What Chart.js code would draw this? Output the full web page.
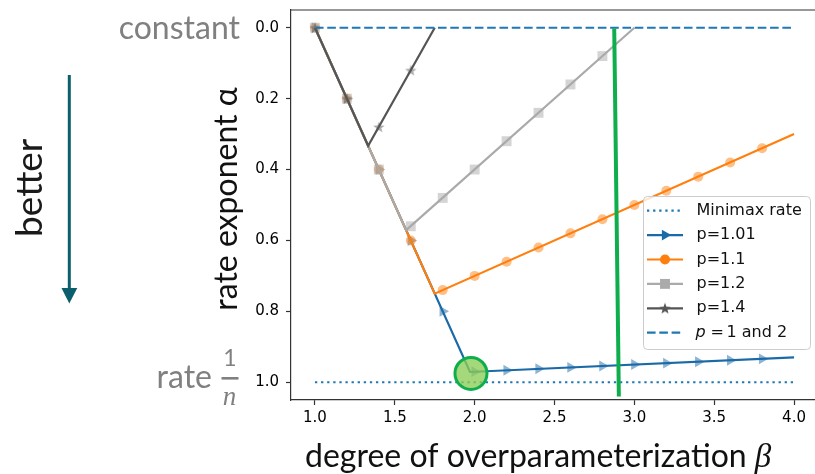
<!DOCTYPE html>
<html>
<head>
<meta charset="utf-8">
<script src="https://cdn.jsdelivr.net/npm/chart.js@4.4.1/dist/chart.umd.min.js"></script>
<style>
  html, body { margin: 0; padding: 0; overflow: hidden; background: #fff; }
  canvas { display: block; }
</style>
</head>
<body>
<canvas id="chart" width="830" height="474"></canvas>
<script>
// ---- data -------------------------------------------------------------
// overparameterization degree beta where markers are placed
const markerBeta = [1.0, 1.2, 1.4, 1.6, 1.8, 2.0, 2.2, 2.4, 2.6, 2.8, 3.0, 3.2, 3.4, 3.6, 3.8];

// rate exponent alpha at the marker positions, per p
const p101Markers = [0.0, 0.2, 0.4, 0.6, 0.8, 0.970, 0.966, 0.962, 0.958, 0.954, 0.950, 0.946, 0.942, 0.938, 0.934];
const p11Markers  = [0.0, 0.2, 0.4, 0.6, 0.74, 0.70, 0.66, 0.62, 0.58, 0.54, 0.50, 0.46, 0.42, 0.38, 0.34];
const p12Markers  = [0.0, 0.2, 0.4, 0.56, 0.48, 0.40, 0.32, 0.24, 0.16, 0.08];
const p14Markers  = [0.0, 0.2, 0.28, 0.12];

// piecewise-linear curves: beta and alpha at the corners
const p101LineBeta  = [1.0, 1.971, 4.0];
const p101LineAlpha = [0.0, 0.971, 0.930];
const p11LineBeta   = [1.0, 1.75, 4.0];
const p11LineAlpha  = [0.0, 0.75, 0.30];
const p12LineBeta   = [1.0, 1.571, 3.0];
const p12LineAlpha  = [0.0, 0.571, 0.0];
const p14LineBeta   = [1.0, 1.333, 1.75];
const p14LineAlpha  = [0.0, 0.333, 0.0];

// reference levels
const minimaxBeta  = [1.0, 4.0];
const minimaxAlpha = [1.0, 1.0];
const p1and2Beta   = [1.0, 4.0];
const p1and2Alpha  = [0.0, 0.0];

// highlighted point and marked threshold
const highlightBeta  = [1.977];
const highlightAlpha = [0.975];
const thresholdBeta  = [2.874, 2.903];
const thresholdAlpha = [0.002, 1.04];

// axis ticks
const xTicks = [1.0, 1.5, 2.0, 2.5, 3.0, 3.5, 4.0];
const yTicks = [0.0, 0.2, 0.4, 0.6, 0.8, 1.0];

// ---- helpers ------------------------------------------------------------
const pts = (xs, ys) => ys.map((y, i) => ({ x: xs[i], y }));

const BLUE = '#1f77b4';
const P101 = '#1b6aa8';
const ORANGE = '#ff7f0e';
const GRAY = '#aaaaaa';
const DARK = '#555555';
const GREEN = '#0fae4c';

function starImage(color, size) {
  const c = document.createElement('canvas');
  c.width = c.height = size;
  const g = c.getContext('2d');
  const R = size / 2, r = R * 0.42, cx = size / 2, cy = size / 2 + R * 0.08;
  g.fillStyle = color;
  g.beginPath();
  for (let k = 0; k < 10; k++) {
    const rad = k % 2 ? r : R;
    const a = -Math.PI / 2 + k * Math.PI / 5;
    g.lineTo(cx + rad * Math.cos(a), cy + rad * Math.sin(a));
  }
  g.closePath();
  g.fill();
  return c;
}
const starFaint = starImage('rgba(85,85,85,0.5)', 12);
const starSolid = starImage(DARK, 12);

function lineSet(label, xs, ys, color, order, extra) {
  return Object.assign({
    label, data: pts(xs, ys), showLine: true, borderColor: color,
    borderWidth: 2.2, pointRadius: 0, order, borderCapStyle: 'butt'
  }, extra || {});
}
function markerSet(label, ys, fill, style, radius, order, extra) {
  return Object.assign({
    label, data: pts(markerBeta, ys), showLine: false,
    backgroundColor: fill, borderWidth: 0, borderColor: 'rgba(0,0,0,0)',
    pointStyle: style, pointRadius: radius, order
  }, extra || {});
}

const datasets = [
  lineSet('Minimax rate', minimaxBeta, minimaxAlpha, BLUE, 20, { borderDash: [2.3, 3.8] }),
  lineSet('p=1.01', p101LineBeta, p101LineAlpha, P101, 19),
  markerSet('p=1.01 markers', p101Markers, 'rgba(27,106,168,0.5)', 'triangle', 6.3, 18, { pointRotation: 90 }),
  lineSet('p=1.1', p11LineBeta, p11LineAlpha, ORANGE, 17),
  markerSet('p=1.1 markers', p11Markers, 'rgba(255,127,14,0.5)', 'circle', 5, 16),
  lineSet('p=1.2', p12LineBeta, p12LineAlpha, GRAY, 15),
  markerSet('p=1.2 markers', p12Markers, 'rgba(170,170,170,0.5)', 'rect', 7, 14),
  lineSet('p=1.4', p14LineBeta, p14LineAlpha, DARK, 13),
  markerSet('p=1.4 markers', p14Markers, 'rgba(85,85,85,0.5)', starFaint, 6, 12),
  lineSet('p = 1 and 2', p1and2Beta, p1and2Alpha, BLUE, 11, { borderDash: [8.6, 3.7] }),
  lineSet('threshold', thresholdBeta, thresholdAlpha, GREEN, 10, { borderWidth: 4 }),
  {
    label: 'highlight', data: pts(highlightBeta, highlightAlpha), showLine: false,
    pointRadius: 16, borderWidth: 3, borderColor: GREEN,
    backgroundColor: 'rgba(140,205,85,0.78)', order: 9
  }
];

// ---- plugins --------------------------------------------------------------
const FRAME = '#333333';

const framePlugin = {
  id: 'frame',
  afterDraw(chart) {
    const { ctx, chartArea: a } = chart;
    ctx.save();
    ctx.strokeStyle = FRAME;
    ctx.lineWidth = 1.2;
    ctx.beginPath();
    ctx.moveTo(a.left, a.top);
    ctx.lineTo(a.right, a.top);
    ctx.stroke();
    ctx.restore();
  }
};

const legendPlugin = {
  id: 'customLegend',
  afterDraw(chart) {
    const { ctx } = chart;
    const byLabel = l => chart.data.datasets.find(d => d.label === l);
    const items = [
      { text: 'Minimax rate', line: byLabel('Minimax rate') },
      { text: 'p=1.01', line: byLabel('p=1.01'), marker: { pointStyle: 'triangle', rotation: 90, radius: 6.3, color: P101 } },
      { text: 'p=1.1', line: byLabel('p=1.1'), marker: { pointStyle: 'circle', rotation: 0, radius: 5, color: ORANGE } },
      { text: 'p=1.2', line: byLabel('p=1.2'), marker: { pointStyle: 'rect', rotation: 0, radius: 7, color: GRAY } },
      { text: 'p=1.4', line: byLabel('p=1.4'), marker: { pointStyle: starSolid, rotation: 0, radius: 6, color: DARK } },
      { text: 'p = 1 and 2', line: byLabel('p = 1 and 2'), math: true }
    ];
    const box = { x: 643.5, y: 196.5, w: 167, h: 153 };
    ctx.save();
    ctx.beginPath();
    ctx.roundRect(box.x, box.y, box.w, box.h, 4);
    ctx.fillStyle = 'rgba(255,255,255,0.8)';
    ctx.fill();
    ctx.strokeStyle = '#cccccc';
    ctx.lineWidth = 1;
    ctx.stroke();

    const row0 = 210.7, step = 24.4;
    items.forEach((it, i) => {
      const y = row0 + i * step;
      const ds = it.line;
      ctx.save();
      ctx.strokeStyle = ds.borderColor;
      ctx.lineWidth = ds.borderWidth;
      ctx.setLineDash(ds.borderDash || []);
      ctx.beginPath();
      ctx.moveTo(647, y);
      ctx.lineTo(683, y);
      ctx.stroke();
      ctx.restore();
      if (it.marker) {
        ctx.save();
        ctx.fillStyle = it.marker.color;
        ctx.strokeStyle = 'rgba(0,0,0,0)';
        Chart.helpers.drawPoint(ctx, {
          pointStyle: it.marker.pointStyle, rotation: it.marker.rotation,
          radius: it.marker.radius, borderWidth: 0
        }, 665, y);
        ctx.restore();
      }
      ctx.fillStyle = '#111';
      ctx.textBaseline = 'middle';
      ctx.textAlign = 'left';
      if (it.math) {
        ctx.font = 'oblique 16px "DejaVu Sans"';
        ctx.fillText('p', 695.5, y);
        ctx.font = '16px "DejaVu Sans"';
        ctx.fillText('=', 710.5, y);
        ctx.fillText('1 and 2', 726.5, y);
      } else {
        ctx.font = '16px "DejaVu Sans"';
        ctx.fillText(it.text, 696.5, y);
      }
    });
    ctx.restore();
  }
};

const annotationPlugin = {
  id: 'sideText',
  afterDraw(chart) {
    const { ctx } = chart;
    ctx.save();
    // level names on the left
    ctx.fillStyle = '#808080';
    ctx.font = '32px Lato';
    ctx.textAlign = 'right';
    ctx.textBaseline = 'alphabetic';
    ctx.fillText('constant', 240, 39);
    ctx.fillText('rate', 212, 388);
    // fraction 1/n
    ctx.textAlign = 'center';
    ctx.font = '23px Lato';
    ctx.fillText('1', 230, 366);
    ctx.fillRect(221.5, 377, 17, 2.6);
    ctx.font = 'italic 27px "Liberation Serif"';
    ctx.fillText('n', 229.5, 405);

    // "better" with downward arrow
    ctx.save();
    ctx.translate(42, 237);
    ctx.rotate(-Math.PI / 2);
    ctx.textAlign = 'left';
    ctx.fillStyle = '#1a1a1a';
    ctx.font = '37px Lato';
    ctx.fillText('better', 0, 0);
    ctx.restore();
    ctx.strokeStyle = '#0b5e6b';
    ctx.fillStyle = '#0b5e6b';
    ctx.lineWidth = 3;
    ctx.beginPath();
    ctx.moveTo(69.3, 75);
    ctx.lineTo(69.3, 290);
    ctx.stroke();
    ctx.beginPath();
    ctx.moveTo(61.5, 288);
    ctx.lineTo(77.3, 288);
    ctx.lineTo(69.3, 303.5);
    ctx.closePath();
    ctx.fill();

    // axis titles
    ctx.fillStyle = '#111';
    ctx.save();
    ctx.translate(237, 199);
    ctx.rotate(-Math.PI / 2);
    ctx.textAlign = 'center';
    ctx.font = '32px Lato';
    ctx.fillText('rate exponent \u03b1', 0, 0);
    ctx.restore();

    ctx.textAlign = 'left';
    ctx.font = '32px Lato';
    const xt = 'degree of overparameterization ';
    ctx.fillText(xt, 305, 467);
    const w = ctx.measureText(xt).width;
    ctx.font = 'italic 33px "Liberation Serif"';
    ctx.fillText('\u03b2', 305 + w, 467);
    ctx.restore();
  }
};

// ---- chart ------------------------------------------------------------------
const tickFont = { family: '"DejaVu Sans"', size: 15 };
const noEdgePadding = s => {
  s.paddingTop = 0; s.paddingBottom = 0; s.paddingLeft = 0; s.paddingRight = 0;
};

new Chart(document.getElementById('chart'), {
  type: 'scatter',
  data: { datasets },
  options: {
    responsive: false,
    animation: false,
    events: [],
    devicePixelRatio: 1,
    layout: { autoPadding: false, padding: { left: 0, top: 10, right: 12, bottom: 0 } },
    plugins: { legend: { display: false }, tooltip: { enabled: false } },
    scales: {
      x: {
        type: 'linear', min: 0.85, max: 4.15,
        afterBuildTicks: s => { s.ticks = xTicks.map(v => ({ value: v })); },
        afterFit: s => { s.height = 74; noEdgePadding(s); },
        ticks: { font: tickFont, color: '#000', padding: 4, maxRotation: 0,
                 callback: v => v.toFixed(1) },
        grid: { display: true, drawOnChartArea: false, drawTicks: true,
                tickLength: 5, tickWidth: 1.2, color: FRAME },
        border: { display: true, color: FRAME, width: 1.2 }
      },
      y: {
        type: 'linear', min: -0.05, max: 1.05, reverse: true,
        afterBuildTicks: s => { s.ticks = yTicks.map(v => ({ value: v })); },
        afterFit: s => { s.width = 291; noEdgePadding(s); },
        ticks: { font: tickFont, color: '#000', padding: 7,
                 callback: v => v.toFixed(1) },
        grid: { display: true, drawOnChartArea: false, drawTicks: true,
                tickLength: 5, tickWidth: 1.2, color: FRAME },
        border: { display: true, color: FRAME, width: 1.2 }
      }
    }
  },
  plugins: [framePlugin, legendPlugin, annotationPlugin]
});
</script>
</body>
</html>
